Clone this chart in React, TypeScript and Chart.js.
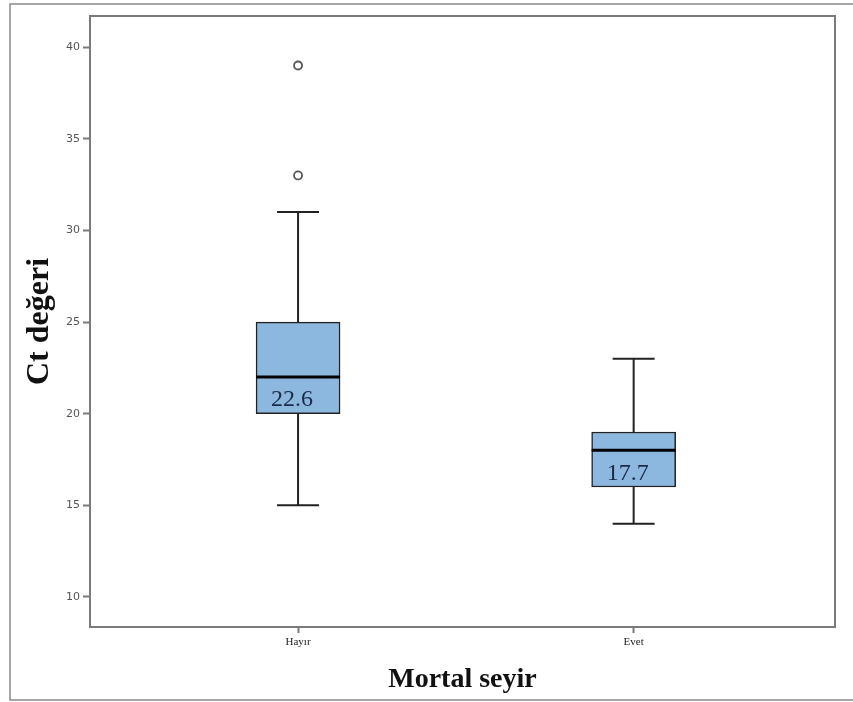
import React, { useEffect, useRef } from "react";
import { Chart, registerables } from "chart.js";

Chart.register(...registerables);

const categories = ["Hayır", "Evet"];
const mins = [15, 14];
const q1s = [20, 16];
const medians = [22, 18];
const q3s = [25, 19];
const maxs = [31, 23];
const meanLabels = ["22.6", "17.7"];
const outliers = [[33, 39], []];
const yTicks = [10, 15, 20, 25, 30, 35, 40];

const AXIS_COLOR = "#7a7a7a";
const BOX_FILL = "#8cb8e0";
const LINE_COLOR = "#222222";

export default function App() {
  const ref = useRef<HTMLCanvasElement | null>(null);

  useEffect(() => {
    if (!ref.current) return;

    const boxPlugin = {
      id: "boxParts",
      beforeDraw(chart: any) {
        const { ctx } = chart;
        ctx.save();
        ctx.strokeStyle = "#8a8a8a";
        ctx.lineWidth = 1.5;
        ctx.beginPath();
        ctx.moveTo(853, 4);
        ctx.lineTo(10, 4);
        ctx.lineTo(10, 700);
        ctx.lineTo(853, 700);
        ctx.stroke();
        ctx.restore();
      },
      beforeDatasetsDraw(chart: any) {
        const { ctx, scales } = chart;
        const xs = scales.x;
        const ys = scales.y;
        ctx.save();
        ctx.strokeStyle = LINE_COLOR;
        ctx.lineWidth = 2;
        categories.forEach((_, i) => {
          const cx = xs.getPixelForValue(i + 1);
          const half = 21;
          ctx.beginPath();
          ctx.moveTo(cx, ys.getPixelForValue(maxs[i]));
          ctx.lineTo(cx, ys.getPixelForValue(q3s[i]));
          ctx.moveTo(cx, ys.getPixelForValue(q1s[i]));
          ctx.lineTo(cx, ys.getPixelForValue(mins[i]));
          ctx.moveTo(cx - half, ys.getPixelForValue(maxs[i]));
          ctx.lineTo(cx + half, ys.getPixelForValue(maxs[i]));
          ctx.moveTo(cx - half, ys.getPixelForValue(mins[i]));
          ctx.lineTo(cx + half, ys.getPixelForValue(mins[i]));
          ctx.stroke();
        });
        ctx.restore();
      },
      afterDatasetsDraw(chart: any) {
        const { ctx, scales, chartArea } = chart;
        const xs = scales.x;
        const ys = scales.y;
        ctx.save();
        categories.forEach((_, i) => {
          const cx = xs.getPixelForValue(i + 1);
          const my = ys.getPixelForValue(medians[i]);
          ctx.strokeStyle = "#000";
          ctx.lineWidth = 3;
          ctx.beginPath();
          ctx.moveTo(cx - 42, my);
          ctx.lineTo(cx + 42, my);
          ctx.stroke();
          ctx.fillStyle = "#1b2a48";
          ctx.font = "24px 'Liberation Serif', serif";
          ctx.textAlign = "center";
          ctx.textBaseline = "middle";
          ctx.fillText(meanLabels[i], cx - 6, my + 23);
        });
        ctx.strokeStyle = AXIS_COLOR;
        ctx.lineWidth = 2;
        ctx.beginPath();
        ctx.moveTo(chartArea.left, chartArea.top);
        ctx.lineTo(chartArea.right, chartArea.top);
        ctx.lineTo(chartArea.right, chartArea.bottom);
        ctx.stroke();
        ctx.restore();
      },
    };

    const outlierData: { x: number; y: number }[] = [];
    outliers.forEach((arr, i) => arr.forEach((v) => outlierData.push({ x: i + 1, y: v })));

    const chart = new Chart(ref.current, {
      type: "bar",
      data: {
        datasets: [
          {
            type: "bar",
            data: categories.map((_, i) => ({ x: i + 1, y: [q1s[i], q3s[i]] })) as any,
            backgroundColor: BOX_FILL,
            borderColor: LINE_COLOR,
            borderWidth: 1.5,
            borderSkipped: false,
            barThickness: 84,
          } as any,
          {
            type: "scatter",
            data: outlierData,
            pointRadius: 4,
            pointBorderWidth: 1.8,
            pointBorderColor: "#555555",
            pointBackgroundColor: "#ffffff",
          } as any,
        ],
      },
      options: {
        animation: false,
        responsive: false,
        maintainAspectRatio: false,
        layout: { padding: { left: 10, top: 16, right: 18, bottom: 0 } },
        plugins: {
          legend: { display: false },
          tooltip: { enabled: false },
        },
        scales: {
          x: {
            type: "linear",
            offset: false,
            min: 0.38,
            max: 2.6,
            afterBuildTicks: (s: any) => {
              s.ticks = categories.map((_, i) => ({ value: i + 1 }));
            },
            afterFit: (s: any) => {
              s.height = 75;
            },
            ticks: {
              callback: (v: any) => categories[Number(v) - 1] ?? "",
              font: { family: "'Liberation Serif', serif", size: 11 },
              color: "#222",
              padding: 3,
              maxRotation: 0,
              autoSkip: false,
            },
            grid: {
              offset: false,
              drawOnChartArea: false,
              drawTicks: true,
              tickLength: 6,
              tickColor: AXIS_COLOR,
              tickWidth: 2,
            },
            border: { color: AXIS_COLOR, width: 2 },
            title: {
              display: true,
              text: "Mortal seyir",
              font: { family: "'Liberation Serif', serif", size: 28, weight: "bold" },
              color: "#111",
              padding: { top: 0, bottom: 5 },
            },
          },
          y: {
            type: "linear",
            min: 8.36,
            max: 41.7,
            afterBuildTicks: (s: any) => {
              s.ticks = yTicks.map((v) => ({ value: v }));
            },
            afterFit: (s: any) => {
              s.width = 80;
            },
            ticks: {
              font: { family: "'DejaVu Sans', sans-serif", size: 11 },
              color: "#555",
              padding: 3,
            },
            grid: {
              drawOnChartArea: false,
              drawTicks: true,
              tickLength: 7,
              tickColor: AXIS_COLOR,
              tickWidth: 2,
            },
            border: { color: AXIS_COLOR, width: 2 },
            title: {
              display: true,
              text: "Ct değeri",
              font: { family: "'Liberation Serif', serif", size: 32, weight: "bold" },
              color: "#111",
              padding: { top: 11, bottom: 0 },
            },
          },
        },
      },
      plugins: [boxPlugin],
    });

    return () => chart.destroy();
  }, []);

  return (
    <div style={{ position: "fixed", left: 0, top: 0, width: 853, height: 702, background: "#fff" }}>
      <canvas ref={ref} width={853} height={702} style={{ display: "block", width: 853, height: 702 }} />
    </div>
  );
}
